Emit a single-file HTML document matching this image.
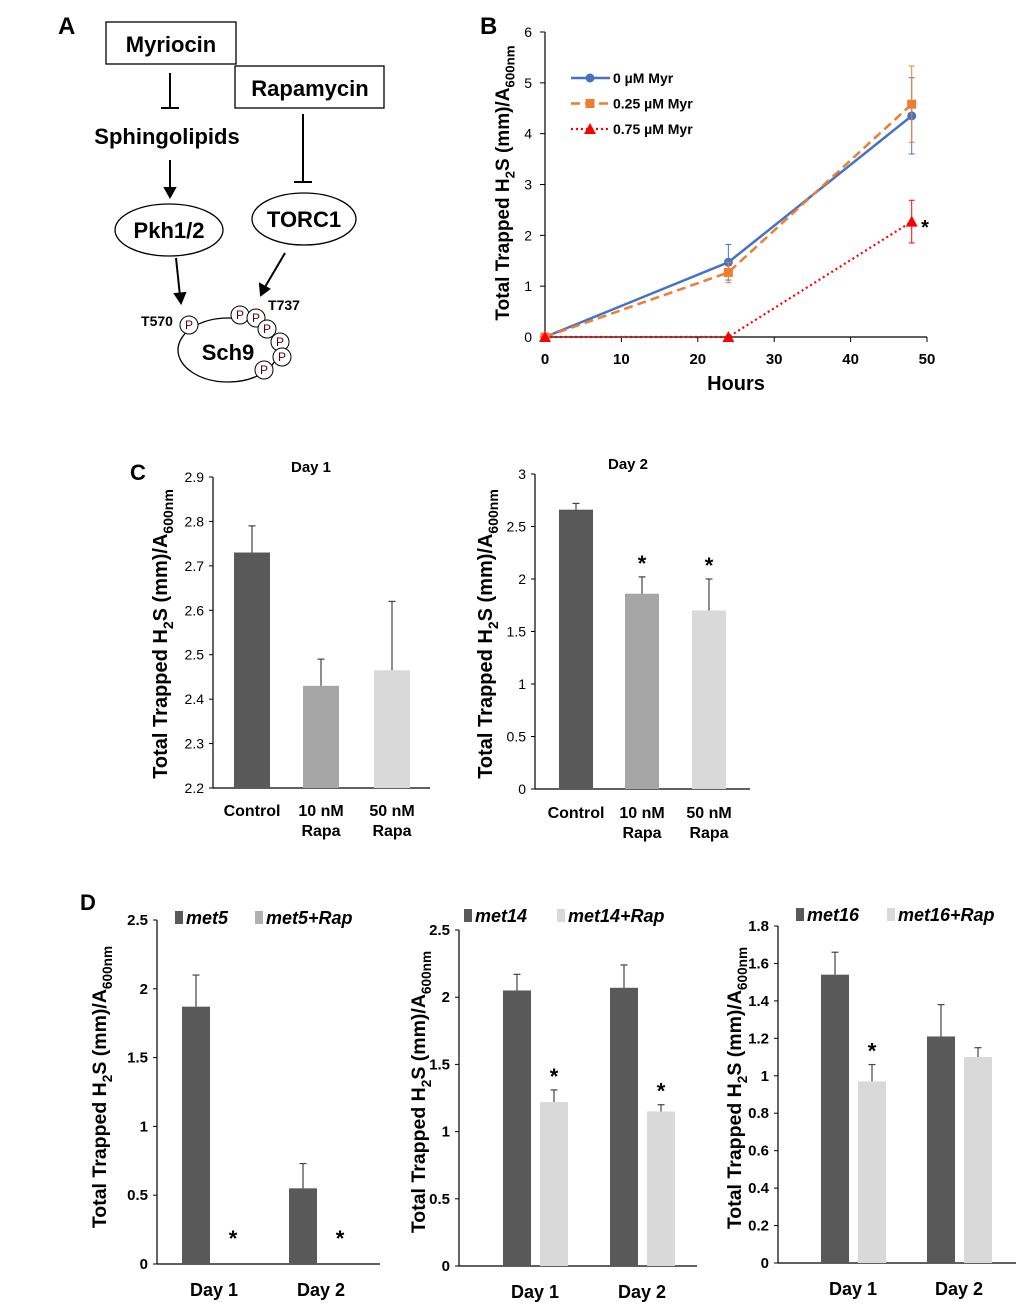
<!DOCTYPE html>
<html><head><meta charset="utf-8"><style>
body{margin:0;background:#fff}
svg{display:block;font-family:"Liberation Sans",sans-serif}
.b{font-weight:bold}
</style></head><body>
<svg id="fig" width="1020" height="1311" viewBox="0 0 1020 1311">
<g fill="none" stroke="#000" stroke-width="2">
<text x="58" y="34" font-size="24" class="b" fill="#000" stroke="none">A</text>
<rect x="106" y="22" width="130" height="42" stroke-width="1.3"/>
<text x="171" y="52" font-size="22" class="b" text-anchor="middle" fill="#000" stroke="none">Myriocin</text>
<rect x="235" y="66" width="149" height="42" stroke-width="1.3"/>
<text x="310" y="96" font-size="22" class="b" text-anchor="middle" fill="#000" stroke="none">Rapamycin</text>
<line x1="170" y1="73" x2="170" y2="108"/><line x1="161" y1="108" x2="179" y2="108"/>
<text x="167" y="144" font-size="22" class="b" text-anchor="middle" fill="#000" stroke="none">Sphingolipids</text>
<line x1="170" y1="160" x2="170" y2="190"/><polygon points="165,188 175,188 170,197" fill="#000"/>
<line x1="303" y1="114" x2="303" y2="182"/><line x1="294" y1="182" x2="312" y2="182"/>
<ellipse cx="169" cy="230" rx="54" ry="26" stroke-width="1.3"/>
<text x="169" y="238" font-size="22" class="b" text-anchor="middle" fill="#000" stroke="none">Pkh1/2</text>
<ellipse cx="304" cy="219" rx="52" ry="26" stroke-width="1.3"/>
<text x="304" y="227" font-size="22" class="b" text-anchor="middle" fill="#000" stroke="none">TORC1</text>
<line x1="176" y1="258" x2="180" y2="296"/><polygon points="175,294 185,293 181,303" fill="#000"/>
<line x1="285" y1="253" x2="265" y2="287"/><polygon points="260,284 269,289 261,295" fill="#000"/>
<ellipse cx="228" cy="350" rx="50" ry="32" stroke-width="1.3"/>
<text x="228" y="360" font-size="22" class="b" text-anchor="middle" fill="#000" stroke="none">Sch9</text>
<text x="157" y="326" font-size="14" class="b" text-anchor="middle" fill="#000" stroke="none">T570</text>
<text x="284" y="310" font-size="14" class="b" text-anchor="middle" fill="#000" stroke="none">T737</text>
<g stroke-width="1" fill="#fff">
<circle cx="189" cy="325" r="9"/><circle cx="240" cy="315" r="9"/><circle cx="256" cy="318" r="9"/><circle cx="267" cy="329" r="9"/><circle cx="280" cy="342" r="9"/><circle cx="282" cy="357" r="9"/><circle cx="264" cy="370" r="9"/>
</g>
<g font-size="12" fill="#5a0000" stroke="none" text-anchor="middle">
<text x="189" y="329">P</text><text x="240" y="319">P</text><text x="256" y="322">P</text><text x="267" y="333">P</text><text x="280" y="346">P</text><text x="282" y="361">P</text><text x="264" y="374">P</text>
</g>
</g>
<g id="panelB"></g>
<g id="panelC1"></g>
<g id="panelC2"></g>
<g id="panelD1"></g>
<g id="panelD2"></g>
<g id="panelD3"></g>
</svg>
<script>
// Panel B data
const bHours = [0, 24, 48];
const bXTicks = [0, 10, 20, 30, 40, 50];
const bYTicks = [0, 1, 2, 3, 4, 5, 6];
const bMyr0 = [0, 1.47, 4.35];
const bMyr0Err = [0, 0.35, 0.75];
const bMyr025 = [0, 1.27, 4.58];
const bMyr025Err = [0, 0.2, 0.75];
const bMyr075 = [0, 0, 2.27];
const bMyr075Err = [0, 0, 0.42];
const bSeriesNames = ["0 µM Myr", "0.25 µM Myr", "0.75 µM Myr"];

// Panel C data
const cCategories = ["Control", "10 nM|Rapa", "50 nM|Rapa"];
const cDay1Values = [2.73, 2.43, 2.465];
const cDay1Err = [0.06, 0.06, 0.155];
const cDay1Ticks = [2.2, 2.3, 2.4, 2.5, 2.6, 2.7, 2.8, 2.9];
const cDay2Values = [2.66, 1.86, 1.70];
const cDay2Err = [0.06, 0.16, 0.30];
const cDay2Ticks = [0, 0.5, 1, 1.5, 2, 2.5, 3];
const cDay2Stars = [false, true, true];

// Panel D data
const dDays = ["Day 1", "Day 2"];
const dMet5 = [1.87, 0.55];
const dMet5Err = [0.23, 0.18];
const dMet5Rap = [0, 0];
const dMet5RapErr = [0, 0];
const dMet5Ticks = [0, 0.5, 1, 1.5, 2, 2.5];
const dMet14 = [2.05, 2.07];
const dMet14Err = [0.12, 0.17];
const dMet14Rap = [1.22, 1.15];
const dMet14RapErr = [0.09, 0.05];
const dMet14Ticks = [0, 0.5, 1, 1.5, 2, 2.5];
const dMet16 = [1.54, 1.21];
const dMet16Err = [0.12, 0.17];
const dMet16Rap = [0.97, 1.10];
const dMet16RapErr = [0.09, 0.05];
const dMet16Ticks = [0, 0.2, 0.4, 0.6, 0.8, 1, 1.2, 1.4, 1.6, 1.8];
const dStars1 = [true, true];
const dStars3 = [true, false];

const NS = "http://www.w3.org/2000/svg";
function mk(parent, tag, attrs, text) {
  const e = document.createElementNS(NS, tag);
  for (const k in attrs) e.setAttribute(k, attrs[k]);
  if (text !== undefined) e.textContent = text;
  parent.appendChild(e);
  return e;
}
function yTitle(g, x, y, size) {
  const t = mk(g, "text", {x: 0, y: 0, transform: `translate(${x},${y}) rotate(-90)`, "font-size": size, "font-weight": "bold", "text-anchor": "middle"});
  
  
  mk(t, "tspan", {dy: 0}, "Total Trapped H");
  mk(t, "tspan", {"font-size": size * 0.7, dy: size * 0.3}, "2");
  mk(t, "tspan", {dy: -size * 0.3}, "S (mm)/A");
  mk(t, "tspan", {"font-size": size * 0.7, dy: size * 0.3}, "600nm");
}

// ---------- Panel B ----------
(function(){
  const g = document.getElementById("panelB");
  const x0 = 545, x1 = 927, y0 = 337, y1 = 32;
  const X = v => x0 + (v - 0) / 50 * (x1 - x0);
  const Y = v => y0 - v / 6 * (y0 - y1);
  mk(g, "text", {x: 480, y: 34, "font-size": 24, "font-weight": "bold"}, "B");
  mk(g, "line", {x1: x0, y1: Y(6), x2: x0, y2: y0, stroke: "#000", "stroke-width": 1.2});
  mk(g, "line", {x1: x0, y1: y0, x2: x1, y2: y0, stroke: "#000", "stroke-width": 1.2});
  bYTicks.forEach(v => {
    mk(g, "line", {x1: x0 - 5, y1: Y(v), x2: x0, y2: Y(v), stroke: "#000"});
    const t = mk(g, "text", {x: x0 - 13, y: Y(v) + 5, "font-size": 14, "text-anchor": "end"}, v);
    
    
  });
  bXTicks.forEach(v => {
    mk(g, "line", {x1: X(v), y1: y0, x2: X(v), y2: y0 + 5, stroke: "#000"});
    const t = mk(g, "text", {x: X(v), y: y0 + 27, "font-size": 15, "font-weight": "bold", "text-anchor": "middle"}, v);
    
    
  });
  const xt = mk(g, "text", {x: 736, y: 390, "font-size": 20, "font-weight": "bold", "text-anchor": "middle"}, "Hours");
  
  
  yTitle(g, 509, 183, 19);
  const series = [
    {v: bMyr0, e: bMyr0Err, c: "#4472c4", dash: "", m: "circle", w: 2.5},
    {v: bMyr025, e: bMyr025Err, c: "#ed7d31", dash: "9,5", m: "square", w: 2.5},
    {v: bMyr075, e: bMyr075Err, c: "#ff0000", dash: "2,3", m: "tri", w: 2.2}
  ];
  function marker(gg, m, cx, cy, c) {
    let el;
    if (m === "circle") el = mk(gg, "circle", {cx, cy, r: 4.5, fill: c});
    else if (m === "square") el = mk(gg, "rect", {x: cx - 4.5, y: cy - 4.5, width: 9, height: 9, fill: c});
    else el = mk(gg, "polygon", {points: `${cx},${cy-6} ${cx-6},${cy+5} ${cx+6},${cy+5}`, fill: c});
    
    
  }
  series.forEach((s, si) => {
    const sg = mk(g, "g", {});
    
    
    s.v.forEach((v, i) => {
      if (s.e[i] > 0) {
        const x = X(bHours[i]);
        mk(sg, "line", {x1: x, y1: Y(v - s.e[i]), x2: x, y2: Y(v + s.e[i]), stroke: s.c, "stroke-width": 1});
        mk(sg, "line", {x1: x - 3, y1: Y(v - s.e[i]), x2: x + 3, y2: Y(v - s.e[i]), stroke: s.c});
        mk(sg, "line", {x1: x - 3, y1: Y(v + s.e[i]), x2: x + 3, y2: Y(v + s.e[i]), stroke: s.c});
      }
    });
    mk(sg, "polyline", {points: s.v.map((v, i) => X(bHours[i]) + "," + Y(v)).join(" "), fill: "none", stroke: s.c, "stroke-width": s.w, "stroke-dasharray": s.dash});
    s.v.forEach((v, i) => marker(sg, s.m, X(bHours[i]), Y(v), s.c));
    const ly = 78 + si * 25.5;
    const lg = mk(g, "g", {});
    
    
    mk(lg, "line", {x1: 571, y1: ly, x2: 610, y2: ly, stroke: s.c, "stroke-width": s.w, "stroke-dasharray": s.dash});
    marker(lg, s.m, 590, ly, s.c);
    mk(lg, "text", {x: 613, y: ly + 5, "font-size": 14, "font-weight": "bold"}, bSeriesNames[si]);
  });
  const st = mk(g, "text", {x: 925, y: 234, "font-size": 20, "font-weight": "bold", "text-anchor": "middle"}, "*");
  
  
})();

// ---------- Generic bar chart ----------
function barChart(gid, cfg) {
  const g = document.getElementById(gid);
  const {ax, ay0, ay1, xr, ticks, min, max} = cfg;
  const Y = v => ay0 - (v - min) / (max - min) * (ay0 - ay1);
  mk(g, "line", {x1: ax, y1: ay1, x2: ax, y2: ay0, stroke: "#000", "stroke-width": 1.2});
  mk(g, "line", {x1: ax, y1: ay0, x2: xr, y2: ay0, stroke: "#000", "stroke-width": 1.2});
  ticks.forEach(v => {
    mk(g, "line", {x1: ax - 4, y1: Y(v), x2: ax, y2: Y(v), stroke: "#000"});
    const t = mk(g, "text", {x: ax - 9, y: Y(v) + 5, "font-size": cfg.tickSize || 14, "font-weight": cfg.tickBold ? "bold" : "normal", "text-anchor": "end"}, v);
    
    
  });
  cfg.bars.forEach(b => {
    const r = mk(g, "rect", {x: b.x, y: Y(b.v), width: b.w, height: Math.max(0, ay0 - Y(b.v)), fill: b.c});
    
    
    if (b.e > 0) {
      const cx = b.x + b.w / 2;
      mk(g, "line", {x1: cx, y1: Y(b.v), x2: cx, y2: Y(b.v + b.e), stroke: "#444", "stroke-width": 1.2});
      mk(g, "line", {x1: cx - 3.5, y1: Y(b.v + b.e), x2: cx + 3.5, y2: Y(b.v + b.e), stroke: "#444", "stroke-width": 1.2});
    }
    if (b.star) {
      const sy = b.v === 0 ? ay0 - 18 : Y(b.v + b.e) - 6;
      const st = mk(g, "text", {x: b.x + b.w / 2, y: sy, "font-size": 22, "font-weight": "bold", "text-anchor": "middle"}, "*");
      
      
    }
  });
  cfg.labels.forEach(l => {
    const lines = l.t.split("|");
    lines.forEach((s, i) => {
      const t = mk(g, "text", {x: l.x, y: ay0 + cfg.labDy + i * 20, "font-size": cfg.labSize || 16, "font-weight": "bold", "text-anchor": "middle"}, s);
      
      
    });
  });
  yTitle(g, cfg.tx, cfg.ty, cfg.tsize);
  return {g, Y};
}
const cCols = ["#595959", "#a6a6a6", "#d9d9d9"];
(function(){
  const xs = [234, 303, 374];
  const r = barChart("panelC1", {ax: 213, ay0: 788, ay1: 477, xr: 430, ticks: cDay1Ticks, min: 2.2, max: 2.9, tickSize: 14,
    bars: cDay1Values.map((v, i) => ({x: xs[i], w: 36, v: v, e: cDay1Err[i], c: cCols[i]})),
    labels: cCategories.map((c, i) => ({x: xs[i] + 18, t: c})), labDy: 28, tx: 167, ty: 634, tsize: 20});
  mk(r.g, "text", {x: 130, y: 480, "font-size": 22, "font-weight": "bold"}, "C");
  mk(r.g, "text", {x: 311, y: 472, "font-size": 15, "font-weight": "bold", "text-anchor": "middle"}, "Day 1");
})();
(function(){
  const xs = [559, 625, 692];
  const r = barChart("panelC2", {ax: 535, ay0: 789, ay1: 474, xr: 750, ticks: cDay2Ticks, min: 0, max: 3, tickSize: 14,
    bars: cDay2Values.map((v, i) => ({x: xs[i], w: 34, v: v, e: cDay2Err[i], c: cCols[i], star: cDay2Stars[i]})),
    labels: cCategories.map((c, i) => ({x: xs[i] + 17, t: c})), labDy: 29, tx: 492, ty: 634, tsize: 20});
  mk(r.g, "text", {x: 628, y: 469, "font-size": 15, "font-weight": "bold", "text-anchor": "middle"}, "Day 2");
})();
function dPanel(gid, cfg, dark, darkErr, light, lightErr, stars, names) {
  const xs = cfg.xs;
  const bars = [];
  dark.forEach((v, i) => {
    bars.push({x: xs[i], w: 28, v: v, e: darkErr[i], c: "#595959"});
    bars.push({x: xs[i] + 37, w: 28, v: light[i], e: lightErr[i], c: cfg.lightCol, star: stars[i]});
  });
  const r = barChart(gid, Object.assign({bars, labels: dDays.map((d, i) => ({x: xs[i] + 32, t: d})), labDy: 32, labSize: 18, tickSize: 15, tickBold: true, xr: cfg.xr}, cfg));
  const lg = mk(r.g, "g", {});
  
  
  mk(lg, "rect", {x: cfg.lx, y: cfg.ly - 13, width: 8, height: 13, fill: "#595959"});
  mk(lg, "text", {x: cfg.lx + 11, y: cfg.ly, "font-size": 18, "font-weight": "bold", "font-style": "italic"}, names[0]);
  mk(lg, "rect", {x: cfg.lx2, y: cfg.ly - 13, width: 8, height: 13, fill: cfg.lightCol});
  mk(lg, "text", {x: cfg.lx2 + 11, y: cfg.ly, "font-size": 18, "font-weight": "bold", "font-style": "italic"}, names[1]);
  return r;
}
(function(){
  const r = dPanel("panelD1", {ax: 157, ay0: 1264, ay1: 920, min: 0, max: 2.5, ticks: dMet5Ticks, xs: [182, 289], xr: 380, tx: 106, ty: 1087, tsize: 19.5, lx: 175, lx2: 255, ly: 924, lightCol: "#b0b0b0"},
    dMet5, dMet5Err, dMet5Rap, dMet5RapErr, dStars1, ["met5", "met5+Rap"]);
  mk(r.g, "text", {x: 80, y: 910, "font-size": 22, "font-weight": "bold"}, "D");
})();
dPanel("panelD2", {ax: 459, ay0: 1266, ay1: 930, min: 0, max: 2.5, ticks: dMet14Ticks, xs: [503, 610], xr: 697, tx: 425, ty: 1092, tsize: 19.5, lx: 464, lx2: 557, ly: 922, lightCol: "#d9d9d9"},
  dMet14, dMet14Err, dMet14Rap, dMet14RapErr, dStars1, ["met14", "met14+Rap"]);
dPanel("panelD3", {ax: 778, ay0: 1263, ay1: 926, min: 0, max: 1.8, ticks: dMet16Ticks, xs: [821, 927], xr: 1016, tx: 741, ty: 1088, tsize: 19.5, lx: 796, lx2: 887, ly: 921, lightCol: "#d9d9d9"},
  dMet16, dMet16Err, dMet16Rap, dMet16RapErr, dStars3, ["met16", "met16+Rap"]);
</script>
</body></html>
